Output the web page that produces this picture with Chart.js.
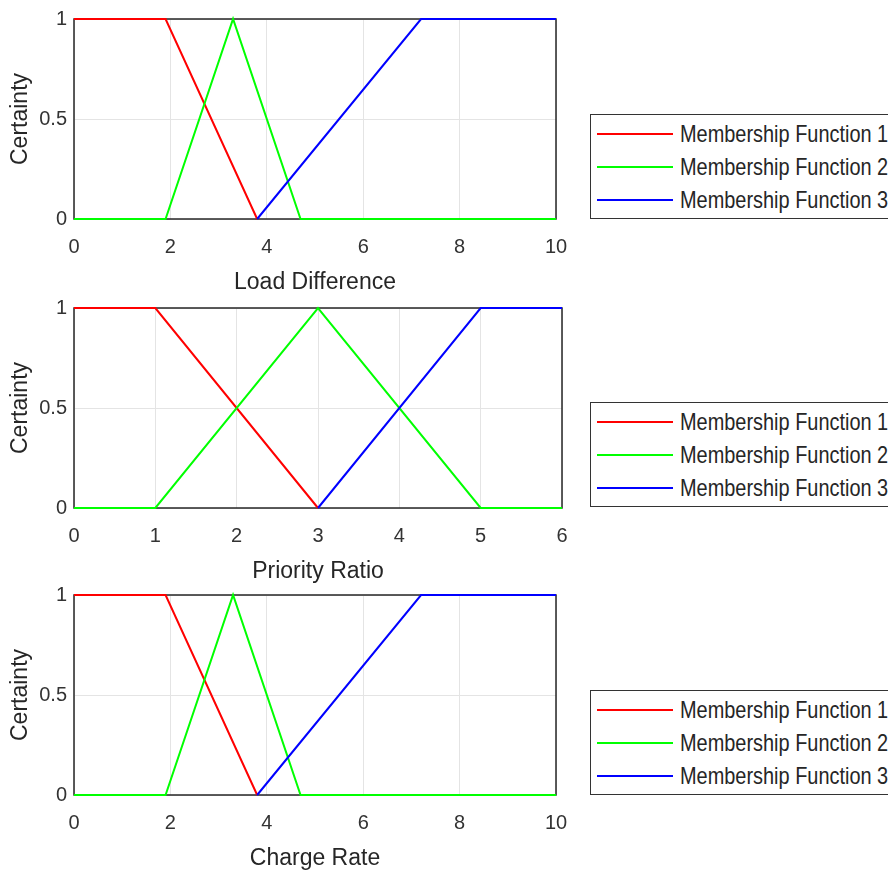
<!DOCTYPE html>
<html>
<head>
<meta charset="utf-8">
<script src="https://cdn.jsdelivr.net/npm/chart.js@4.4.1/dist/chart.umd.min.js"></script>
<style>
  html, body { margin: 0; padding: 0; background: #fff; overflow: hidden; }
  body { width: 888px; height: 873px; position: relative; }
  canvas { position: absolute; left: 0; }
  .legend {
    position: absolute; left: 590px; width: 330px; height: 105px;
    border: 1.5px solid #333; box-sizing: border-box; background: #fff;
    font-family: "Liberation Sans", Arial, sans-serif;
    font-size: 24px; color: #262626;
  }
  .legend .row { position: absolute; left: 0; height: 24px; display: flex; align-items: center; white-space: nowrap; }
  .legend .swatch { width: 76px; height: 2px; margin-left: 5.5px; margin-right: 7px; flex: none; }
  .legend .txt { display: inline-block; transform: scaleX(0.83); transform-origin: left center; }
</style>
</head>
<body>
<canvas id="loadChart" width="600" height="296" style="top:0px"></canvas>
<canvas id="prioChart" width="600" height="296" style="top:289px"></canvas>
<canvas id="chargeChart" width="600" height="296" style="top:576px"></canvas>
<div class="legend" id="loadLegend" style="top:114px"></div>
<div class="legend" id="prioLegend" style="top:402px"></div>
<div class="legend" id="chargeLegend" style="top:690px"></div>

<script>
const mfLabels = ['Membership Function 1', 'Membership Function 2', 'Membership Function 3'];
const mfColors = ['#ff0000', '#00ff00', '#0000ff'];
const certTicks = [0, 0.5, 1];

// Load Difference
const loadTicks = [0, 2, 4, 6, 8, 10];
const loadMf1X = [0, 1.9, 3.8];
const loadMf1Y = [1, 1, 0];
const loadMf2X = [0, 1.9, 3.3, 4.7, 10];
const loadMf2Y = [0, 0, 1, 0, 0];
const loadMf3X = [3.8, 7.2, 10];
const loadMf3Y = [0, 1, 1];

// Priority Ratio
const prioTicks = [0, 1, 2, 3, 4, 5, 6];
const prioMf1X = [0, 1, 3];
const prioMf1Y = [1, 1, 0];
const prioMf2X = [0, 1, 3, 5, 6];
const prioMf2Y = [0, 0, 1, 0, 0];
const prioMf3X = [3, 5, 6];
const prioMf3Y = [0, 1, 1];

// Charge Rate
const chargeTicks = [0, 2, 4, 6, 8, 10];
const chargeMf1X = [0, 1.9, 3.8];
const chargeMf1Y = [1, 1, 0];
const chargeMf2X = [0, 1.9, 3.3, 4.7, 10];
const chargeMf2Y = [0, 0, 1, 0, 0];
const chargeMf3X = [3.8, 7.2, 10];
const chargeMf3Y = [0, 1, 1];

const framePlugin = {
  id: 'frame',
  beforeDatasetsDraw(chart) {
    const { ctx, chartArea: a } = chart;
    ctx.save();
    ctx.strokeStyle = '#262626';
    ctx.lineWidth = 1.5;
    ctx.strokeRect(a.left, a.top, a.right - a.left, a.bottom - a.top);
    ctx.restore();
  }
};

const textFont = '"Liberation Sans", Arial, sans-serif';

function makeChart(id, title, xTicks, series, rightPad) {
  const datasets = series.map((s, i) => ({
    label: mfLabels[i],
    data: s[0].map((x, j) => ({ x: x, y: s[1][j] })),
    borderColor: mfColors[i],
    borderWidth: 2,
    pointRadius: 0,
    tension: 0,
    fill: false,
    clip: 4,
    order: series.length - i
  }));

  new Chart(document.getElementById(id), {
    type: 'line',
    data: { datasets },
    plugins: [framePlugin],
    options: {
      responsive: false,
      animation: false,
      devicePixelRatio: 1,
      layout: { padding: { top: 13, right: rightPad, left: 0, bottom: 0 } },
      plugins: { legend: { display: false }, tooltip: { enabled: false } },
      scales: {
        x: {
          type: 'linear',
          min: xTicks[0],
          max: xTicks[xTicks.length - 1],
          afterBuildTicks: s => { s.ticks = xTicks.map(v => ({ value: v })); },
          afterFit: s => { s.height = 77; },
          grid: { color: '#e4e4e4', drawTicks: false },
          border: { display: false },
          ticks: { font: { family: textFont, size: 20 }, color: '#333', padding: 16, maxRotation: 0, autoSkip: false,
                   callback: v => String(v) },
          title: { display: true, text: title, font: { family: textFont, size: 23 }, color: '#262626', padding: { top: 0, bottom: 0 } }
        },
        y: {
          type: 'linear',
          min: 0,
          max: 1,
          afterBuildTicks: s => { s.ticks = certTicks.map(v => ({ value: v })); },
          afterFit: s => { s.width = 74; },
          grid: { color: '#e4e4e4', drawTicks: false },
          border: { display: false },
          ticks: { font: { family: textFont, size: 20 }, color: '#333', padding: 7, callback: v => String(v) },
          title: { display: true, text: 'Certainty', font: { family: textFont, size: 23 }, color: '#262626', padding: { top: 7, bottom: 0 } }
        }
      }
    }
  });
}

function makeLegend(id) {
  const box = document.getElementById(id);
  const offsets = [20, 53, 86];
  box.innerHTML = mfLabels.map((label, i) =>
    `<div class="row" style="top:${offsets[i] - 12 - 1.5}px">
      <span class="swatch" style="background:${mfColors[i]}"></span><span class="txt">${label}</span>
    </div>`).join('');
}

makeChart('loadChart', 'Load Difference', loadTicks,
  [[loadMf1X, loadMf1Y], [loadMf2X, loadMf2Y], [loadMf3X, loadMf3Y]], 44);
makeChart('prioChart', 'Priority Ratio', prioTicks,
  [[prioMf1X, prioMf1Y], [prioMf2X, prioMf2Y], [prioMf3X, prioMf3Y]], 38);
makeChart('chargeChart', 'Charge Rate', chargeTicks,
  [[chargeMf1X, chargeMf1Y], [chargeMf2X, chargeMf2Y], [chargeMf3X, chargeMf3Y]], 44);

makeLegend('loadLegend');
makeLegend('prioLegend');
makeLegend('chargeLegend');
</script>
</body>
</html>
